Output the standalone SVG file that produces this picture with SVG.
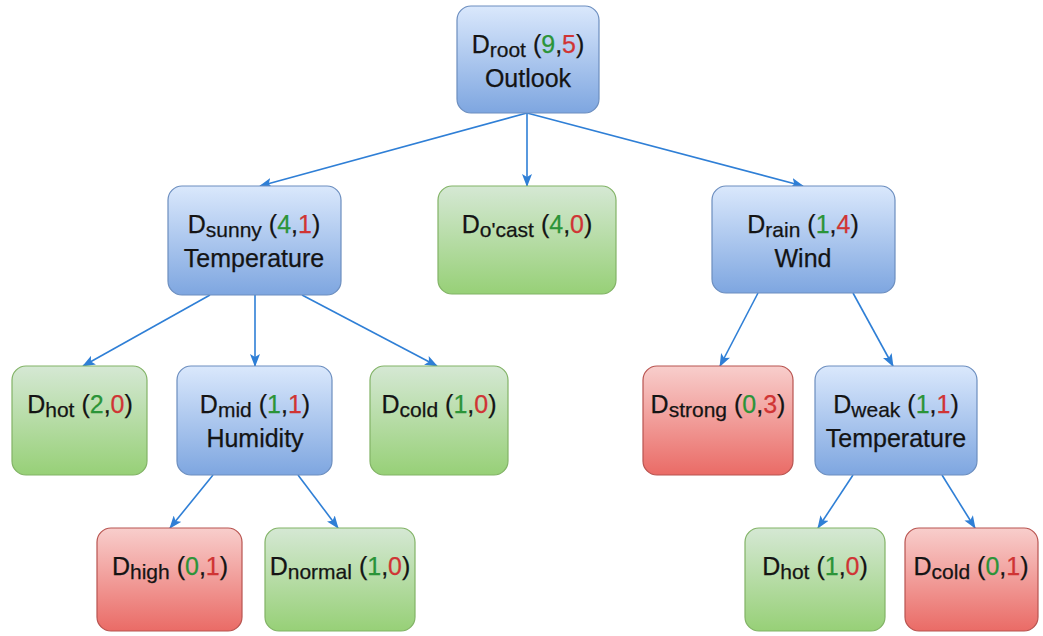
<svg xmlns="http://www.w3.org/2000/svg" width="1043" height="636" viewBox="0 0 1043 636">
  <defs>
    <linearGradient id="gBlue" x1="0" y1="0" x2="0" y2="1">
      <stop offset="0" stop-color="#dae8fc"/>
      <stop offset="1" stop-color="#7ea6e0"/>
    </linearGradient>
    <linearGradient id="gGreen" x1="0" y1="0" x2="0" y2="1">
      <stop offset="0" stop-color="#d5e8d4"/>
      <stop offset="1" stop-color="#97d077"/>
    </linearGradient>
    <linearGradient id="gRed" x1="0" y1="0" x2="0" y2="1">
      <stop offset="0" stop-color="#f8cecc"/>
      <stop offset="1" stop-color="#ea6b66"/>
    </linearGradient>
    <marker id="arrow" viewBox="0 0 13 10" refX="12" refY="5" markerWidth="13" markerHeight="10" markerUnits="userSpaceOnUse" orient="auto">
      <path d="M0,0 L13,5 L0,10 L3,5 z" fill="#2f7fd6"/>
    </marker>
  </defs>
  <style>
    .blue { fill: url(#gBlue); stroke: #6c8ebf; stroke-width: 1.2; }
    .green { fill: url(#gGreen); stroke: #82b366; stroke-width: 1.2; }
    .red { fill: url(#gRed); stroke: #b85450; stroke-width: 1.2; }
    text { font-family: "Liberation Sans", Arial, Helvetica, sans-serif; font-size: 25px; fill: #141414; stroke: #141414; stroke-width: 0.25; text-anchor: middle; }
    .sub { font-size: 21px; }
    .g { fill: #2b9438; stroke: #2b9438; }
    .r { fill: #d03434; stroke: #d03434; }
    #edges line { stroke: #2f7fd6; stroke-width: 1.6; fill: none; marker-end: url(#arrow); }
  </style>
  <rect width="1043" height="636" fill="#ffffff"/>

  <!-- connectors -->
  <g id="edges">
    <line x1="527" y1="113" x2="260" y2="186"/>
    <line x1="527" y1="113" x2="527" y2="186"/>
    <line x1="527" y1="113" x2="803" y2="186"/>
    <line x1="210" y1="295" x2="83" y2="366"/>
    <line x1="255" y1="295" x2="255" y2="366"/>
    <line x1="302" y1="295" x2="437" y2="366"/>
    <line x1="758" y1="293" x2="720" y2="366"/>
    <line x1="853" y1="293" x2="893" y2="366"/>
    <line x1="213" y1="475" x2="170" y2="528"/>
    <line x1="298" y1="475" x2="338" y2="528"/>
    <line x1="853" y1="475" x2="818" y2="528"/>
    <line x1="942" y1="475" x2="975" y2="528"/>
  </g>

  <!-- root -->
  <g id="root">
    <rect class="blue" x="457" y="6" width="142" height="107" rx="14"/>
    <text x="528" y="53">D<tspan class="sub" dy="4">root</tspan><tspan dy="-4"> (</tspan><tspan class="g">9</tspan>,<tspan class="r">5</tspan>)</text>
    <text x="528" y="87">Outlook</text>
  </g>

  <!-- second level -->
  <g id="sunny">
    <rect class="blue" x="168" y="186" width="173" height="109" rx="14"/>
    <text x="254" y="233">D<tspan class="sub" dy="4">sunny</tspan><tspan dy="-4"> (</tspan><tspan class="g">4</tspan>,<tspan class="r">1</tspan>)</text>
    <text x="254" y="267">Temperature</text>
  </g>
  <g id="ocast">
    <rect class="green" x="438" y="186" width="178" height="108" rx="14"/>
    <text x="527" y="233">D<tspan class="sub" dy="4">o'cast</tspan><tspan dy="-4"> (</tspan><tspan class="g">4</tspan>,<tspan class="r">0</tspan>)</text>
  </g>
  <g id="rain">
    <rect class="blue" x="712" y="186" width="183" height="107" rx="14"/>
    <text x="803" y="233">D<tspan class="sub" dy="4">rain</tspan><tspan dy="-4"> (</tspan><tspan class="g">1</tspan>,<tspan class="r">4</tspan>)</text>
    <text x="803" y="267">Wind</text>
  </g>

  <!-- third level -->
  <g id="hot">
    <rect class="green" x="12" y="366" width="135" height="109" rx="14"/>
    <text x="80" y="413">D<tspan class="sub" dy="4">hot</tspan><tspan dy="-4"> (</tspan><tspan class="g">2</tspan>,<tspan class="r">0</tspan>)</text>
  </g>
  <g id="mid">
    <rect class="blue" x="177" y="366" width="155" height="109" rx="14"/>
    <text x="255" y="413">D<tspan class="sub" dy="4">mid</tspan><tspan dy="-4"> (</tspan><tspan class="g">1</tspan>,<tspan class="r">1</tspan>)</text>
    <text x="255" y="447">Humidity</text>
  </g>
  <g id="cold">
    <rect class="green" x="370" y="366" width="138" height="109" rx="14"/>
    <text x="439" y="413">D<tspan class="sub" dy="4">cold</tspan><tspan dy="-4"> (</tspan><tspan class="g">1</tspan>,<tspan class="r">0</tspan>)</text>
  </g>
  <g id="strong">
    <rect class="red" x="643" y="366" width="150" height="109" rx="14"/>
    <text x="718" y="413">D<tspan class="sub" dy="4">strong</tspan><tspan dy="-4"> (</tspan><tspan class="g">0</tspan>,<tspan class="r">3</tspan>)</text>
  </g>
  <g id="weak">
    <rect class="blue" x="815" y="366" width="162" height="109" rx="14"/>
    <text x="896" y="413">D<tspan class="sub" dy="4">weak</tspan><tspan dy="-4"> (</tspan><tspan class="g">1</tspan>,<tspan class="r">1</tspan>)</text>
    <text x="896" y="447">Temperature</text>
  </g>

  <!-- leaves -->
  <g id="high">
    <rect class="red" x="97" y="528" width="145" height="103" rx="14"/>
    <text x="170" y="575">D<tspan class="sub" dy="4">high</tspan><tspan dy="-4"> (</tspan><tspan class="g">0</tspan>,<tspan class="r">1</tspan>)</text>
  </g>
  <g id="normal">
    <rect class="green" x="265" y="528" width="150" height="103" rx="14"/>
    <text x="340" y="575">D<tspan class="sub" dy="4">normal</tspan><tspan dy="-4"> (</tspan><tspan class="g">1</tspan>,<tspan class="r">0</tspan>)</text>
  </g>
  <g id="hot2">
    <rect class="green" x="745" y="528" width="140" height="103" rx="14"/>
    <text x="815" y="575">D<tspan class="sub" dy="4">hot</tspan><tspan dy="-4"> (</tspan><tspan class="g">1</tspan>,<tspan class="r">0</tspan>)</text>
  </g>
  <g id="cold2">
    <rect class="red" x="905" y="528" width="133" height="103" rx="14"/>
    <text x="971" y="575">D<tspan class="sub" dy="4">cold</tspan><tspan dy="-4"> (</tspan><tspan class="g">0</tspan>,<tspan class="r">1</tspan>)</text>
  </g>
</svg>
